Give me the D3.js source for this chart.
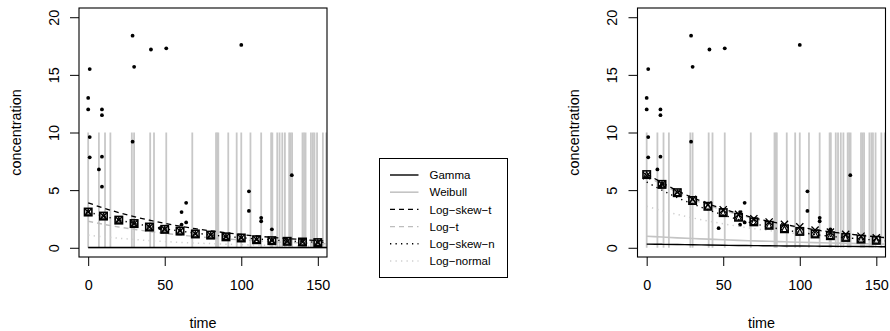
<!DOCTYPE html>
<html><head><meta charset="utf-8">
<script src="https://cdn.jsdelivr.net/npm/d3@7"></script>
<style>body{margin:0;background:#fff}svg{display:block;font-family:"Liberation Sans",Arial,sans-serif}</style>
</head><body><svg id="c" width="890" height="331"></svg>
<script>
// ---- data ----
const dotTime = [0,0,1,1,1,7,9,9,9,9,29,29,30,41,51,47,61,61,64,64,100,105,105,113,113,120,133];
const dotConc = [13,12,15.5,9.6,7.85,6.8,12,11.5,7.9,5.3,18.4,9.2,15.7,17.2,17.3,1.7,3.1,2.0,3.9,2.2,17.6,4.9,3.2,2.6,2.3,1.6,6.3];
const censorTime = [0,7,11,14.5,28.5,30,40.5,43,51,68,83.5,84.3,85,91.5,97,100,106,113,119.5,120.3,123.5,125,126.8,128.5,131.3,132.2,133.2,140,141,142,145.5,146.8,147.8,149.5,153.3,155.5];
const censorTop = 10;
const markTime = [0,10,20,30,40,50,60,70,80,90,100,110,120,130,140,150];
const curveTime = [0,10,20,30,40,50,60,70,80,90,100,110,120,130,140,150,156];
const xTicks = [0,50,100,150];
const yTicks = [0,5,10,15,20];
const legendLabels = ["Gamma","Weibull","Log\u2212skew\u2212t","Log\u2212t","Log\u2212skew\u2212n","Log\u2212normal"];

// left panel
const leftSquare = [3.1,2.75,2.4,2.1,1.8,1.6,1.45,1.2,1.1,0.95,0.85,0.7,0.62,0.56,0.5,0.45];
const leftCross  = [3.1,2.75,2.4,2.1,1.8,1.6,1.45,1.2,1.1,0.95,0.85,0.7,0.62,0.56,0.5,0.45];
const leftGamma     = [0.02,0.02,0.02,0.02,0.02,0.02,0.02,0.02,0.02,0.02,0.02,0.02,0.02,0.02,0.02,0.02,0.02];
const leftWeibull   = [0,0,0,0,0,0,0,0,0,0,0,0,0,0,0,0,0];
const leftLogSkewT  = [3.9,3.45,3.05,2.7,2.39,2.12,1.87,1.66,1.47,1.3,1.15,1.02,0.9,0.8,0.71,0.62,0.58];
const leftLogT      = [2.3,2.04,1.8,1.6,1.41,1.25,1.11,0.98,0.87,0.77,0.68,0.6,0.53,0.47,0.42,0.37,0.34];
const leftLogSkewN  = [3.1,2.75,2.42,2.12,1.87,1.65,1.45,1.28,1.12,0.99,0.87,0.77,0.68,0.6,0.53,0.47,0.43];
const leftLogNormal = [1.1,0.95,0.83,0.72,0.62,0.54,0.47,0.41,0.36,0.31,0.27,0.23,0.2,0.18,0.15,0.13,0.12];

// right panel
const rightSquare = [6.35,5.5,4.78,4.1,3.6,3.05,2.65,2.25,1.95,1.65,1.42,1.2,1.05,0.9,0.75,0.65];
const rightCross  = [6.25,5.5,4.8,4.2,3.72,3.3,2.9,2.52,2.24,2.03,1.82,1.54,1.36,1.16,1.0,0.86];
const rightGamma     = [0.32,0.3,0.28,0.26,0.24,0.22,0.2,0.19,0.17,0.16,0.15,0.14,0.13,0.12,0.11,0.1,0.09];
const rightWeibull   = [1.0,0.93,0.86,0.8,0.75,0.69,0.64,0.6,0.56,0.52,0.48,0.45,0.42,0.39,0.36,0.33,0.32];
const rightLogSkewT  = [6.4,5.65,4.95,4.35,3.82,3.36,2.96,2.6,2.3,2.03,1.79,1.57,1.39,1.22,1.08,0.95,0.88];
const rightLogT      = [6.2,5.5,4.8,4.2,3.7,3.26,2.87,2.52,2.23,1.97,1.74,1.53,1.35,1.19,1.05,0.92,0.85];
const rightLogSkewN  = [5.7,5.0,4.35,3.8,3.3,2.85,2.45,2.1,1.8,1.55,1.35,1.15,1.0,0.87,0.76,0.66,0.6];
const rightLogNormal = [3.6,3.22,2.89,2.59,2.32,2.08,1.86,1.66,1.49,1.34,1.2,1.07,0.96,0.86,0.77,0.69,0.65];

// ---- styles ----
const styles = [
  {color:"#000", width:1.4, dash:null},
  {color:"#c4c4c4", width:1.6, dash:null},
  {color:"#000", width:1.3, dash:"5,4"},
  {color:"#bdbdbd", width:1.4, dash:"5,4"},
  {color:"#000", width:1.4, dash:"1.3,4.2"},
  {color:"#cfcfcf", width:1.5, dash:"1.3,4.2"}
];

const svg = d3.select("#c");
const W = 248, H = 249, TOP = 8;
const FS = 14.4;

function panel(left, curves, squares, crosses) {
  const x = d3.scaleLinear().domain([-6,156]).range([left, left+W]);
  const y = d3.scaleLinear().domain([-0.8,20.8]).range([TOP+H, TOP]);
  const g = svg.append("g");
  const clipId = "clip"+left;
  svg.append("clipPath").attr("id", clipId).append("rect")
    .attr("x", left).attr("y", TOP).attr("width", W).attr("height", H);
  const inner = g.append("g").attr("clip-path", `url(#${clipId})`);

  // censored vertical lines
  inner.selectAll("line.cen").data(censorTime).join("line")
    .attr("x1", d=>x(d)).attr("x2", d=>x(d))
    .attr("y1", y(0)).attr("y2", y(censorTop))
    .attr("stroke", "#c8c8c8").attr("stroke-width", 1.8);

  // dots
  inner.selectAll("circle.dot").data(dotTime.map((t,i)=>[t,dotConc[i]])).join("circle")
    .attr("cx", d=>x(d[0])).attr("cy", d=>y(d[1])).attr("r", 1.9).attr("fill", "#000");

  // curves
  const line = d3.line().x((d,i)=>x(curveTime[i])).y(d=>y(d)).curve(d3.curveMonotoneX);
  [5,4,3,1,2,0].forEach(k => {
    const s = styles[k];
    inner.append("path").attr("d", line(curves[k])).attr("fill","none")
      .attr("stroke", s.color).attr("stroke-width", s.width)
      .attr("stroke-dasharray", s.dash);
  });

  // markers: square + triangle + cross
  const h = 3.7;
  markTime.forEach((t,i) => {
    const cx = x(t), cy = y(squares[i]);
    inner.append("rect").attr("x", cx-h).attr("y", cy-h).attr("width", 2*h).attr("height", 2*h)
      .attr("fill","none").attr("stroke","#000").attr("stroke-width",1.6);
    const th = 2.8;
    inner.append("path").attr("d", `M${cx},${cy-th}L${cx+th},${cy+th}L${cx-th},${cy+th}Z`)
      .attr("fill","none").attr("stroke","#000").attr("stroke-width",1.1);
    const xc = x(t), yc = y(crosses[i]), c = 3.6;
    inner.append("path").attr("d", `M${xc-c},${yc-c}L${xc+c},${yc+c}M${xc-c},${yc+c}L${xc+c},${yc-c}`)
      .attr("fill","none").attr("stroke","#000").attr("stroke-width",1.3);
  });

  // box
  g.append("rect").attr("x", left).attr("y", TOP).attr("width", W).attr("height", H)
    .attr("fill","none").attr("stroke","#000").attr("stroke-width",1.1);

  // x axis
  const xa = g.append("g").attr("transform", `translate(0,${TOP+H})`)
    .call(d3.axisBottom(x).tickValues(xTicks).tickSize(9).tickPadding(5).tickFormat(d3.format("d")));
  xa.select(".domain").remove();
  xa.selectAll("line").attr("stroke","#000");
  xa.selectAll("text").attr("font-size", FS).attr("fill","#000")
    .attr("font-family","Liberation Sans, Arial, sans-serif").attr("dy", null).attr("y", 33 - 0);
  xa.selectAll("text").attr("y", 290-(TOP+H)).attr("dominant-baseline", null);

  // y axis
  const ya = g.append("g").attr("transform", `translate(${left},0)`)
    .call(d3.axisLeft(y).tickValues(yTicks).tickSize(9).tickFormat(d3.format("d")));
  ya.select(".domain").remove();
  ya.selectAll("line").attr("stroke","#000");
  ya.selectAll("text").attr("font-size", FS).attr("fill","#000")
    .attr("font-family","Liberation Sans, Arial, sans-serif")
    .attr("x", null).attr("dy", null)
    .attr("text-anchor","middle")
    .attr("transform", "translate(-20.5,0) rotate(-90)");

  // titles
  g.append("text").attr("x", left+W/2).attr("y", 328).attr("text-anchor","middle")
    .attr("font-size", FS).text("time");
  g.append("text").attr("transform", `translate(${left-58.5},${TOP+H/2}) rotate(-90)`)
    .attr("text-anchor","middle").attr("font-size", FS).text("concentration");
}

panel(79, [leftGamma,leftWeibull,leftLogSkewT,leftLogT,leftLogSkewN,leftLogNormal], leftSquare, leftCross);
panel(637.5, [rightGamma,rightWeibull,rightLogSkewT,rightLogT,rightLogSkewN,rightLogNormal], rightSquare, rightCross);

// legend
const lg = svg.append("g");
lg.append("rect").attr("x", 379.5).attr("y", 158.5).attr("width", 128).attr("height", 119)
  .attr("fill","#fff").attr("stroke","#000").attr("stroke-width",1);
legendLabels.forEach((lab,i) => {
  const yy = 175 + i*17.2;
  const s = styles[i];
  lg.append("line").attr("x1", 390).attr("x2", 418.5).attr("y1", yy).attr("y2", yy)
    .attr("stroke", s.color).attr("stroke-width", s.width).attr("stroke-dasharray", s.dash);
  lg.append("text").attr("x", 429.5).attr("y", yy+4.2).attr("font-size", 11.5).text(lab);
});
</script></body></html>
